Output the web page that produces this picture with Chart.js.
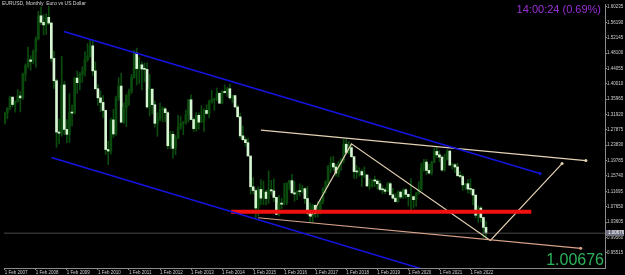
<!DOCTYPE html>
<html>
<head>
<meta charset="utf-8">
<script src="https://cdn.jsdelivr.net/npm/chart.js@4.4.0/dist/chart.umd.min.js"></script>
<style>
html, body { margin: 0; padding: 0; background: #000; overflow: hidden; }
#wrap { position: relative; width: 625px; height: 275px; }
canvas { display: block; }
.txt { position: absolute; font-family: "Liberation Sans", Arial, sans-serif; white-space: nowrap; line-height: 1; }
#title { left: 2px; top: 1px; font-size: 5px; color: #d8d8d8; }
#clock { right: 24px; top: 4px; font-size: 11px; color: #9a2fd6; }
#bid { right: 21px; top: 252px; font-size: 16px; color: #2bb35b; }
</style>
</head>
<body>
<div id="wrap">
  <canvas id="myChart" width="625" height="275"></canvas>
  <div class="txt" id="title">EURUSD, Monthly &nbsp;Euro vs US Dollar</div>
  <div class="txt" id="clock">14:00:24 (0.69%)</div>
  <div class="txt" id="bid">1.00676</div>
</div>
<script>
// EURUSD monthly candles, Feb 2007 .. Aug 2022 (one row per year)
var opens = [
  1.2990,1.3230,1.3355,1.3650,1.3455,1.3530,1.3680,1.3630,1.4260,1.4480,1.4630,
  1.4590,1.4860,1.5180,1.5790,1.5620,1.5550,1.5750,1.5600,1.4670,1.4080,1.2730,1.2700,
  1.3970,1.2800,1.2670,1.3250,1.3230,1.4150,1.4030,1.4250,1.4340,1.4640,1.4720,1.5000,
  1.4340,1.3870,1.3630,1.3510,1.3300,1.2270,1.2230,1.3050,1.2680,1.3630,1.3940,1.2990,
  1.3380,1.3690,1.3800,1.4170,1.4810,1.4400,1.4500,1.4390,1.4380,1.3390,1.3860,1.3450,
  1.2960,1.3080,1.3330,1.3340,1.3240,1.2370,1.2670,1.2300,1.2570,1.2860,1.2960,1.2990,
  1.3190,1.3580,1.3060,1.2820,1.3170,1.2990,1.3010,1.3300,1.3220,1.3520,1.3580,1.3590,
  1.3750,1.3490,1.3800,1.3770,1.3870,1.3630,1.3690,1.3390,1.3130,1.2630,1.2530,1.2450,
  1.2100,1.1290,1.1190,1.0730,1.1220,1.0990,1.1150,1.0980,1.1210,1.1180,1.1010,1.0560,
  1.0860,1.0830,1.0870,1.1380,1.1450,1.1130,1.1100,1.1170,1.1160,1.1240,1.0980,1.0590,
  1.0520,1.0800,1.0580,1.0650,1.0900,1.1240,1.1420,1.1840,1.1910,1.1810,1.1650,1.1900,
  1.2000,1.2410,1.2190,1.2320,1.2080,1.1690,1.1680,1.1690,1.1600,1.1600,1.1310,1.1310,
  1.1470,1.1440,1.1370,1.1220,1.1210,1.1170,1.1370,1.1080,1.0990,1.0900,1.1150,1.1020,
  1.1210,1.1090,1.1030,1.1030,1.0950,1.1100,1.1230,1.1780,1.1940,1.1720,1.1650,1.1930,
  1.2220,1.2130,1.2070,1.1730,1.2020,1.2230,1.1860,1.1870,1.1810,1.1580,1.1560,1.1340,
  1.1370,1.1230,1.1220,1.1070,1.0540,1.0730,1.0480,1.0220
];
var highs = [
  1.3250,1.3375,1.3680,1.3650,1.3550,1.3850,1.3800,1.4280,1.4525,1.4965,1.4740,
  1.4890,1.5240,1.5905,1.6020,1.5820,1.5840,1.6038,1.5630,1.4865,1.4120,1.3080,1.4720,
  1.4060,1.3060,1.3740,1.3440,1.4170,1.4340,1.4300,1.4450,1.4850,1.5060,1.5145,1.5140,
  1.4580,1.3980,1.3815,1.3690,1.3310,1.2490,1.3100,1.3330,1.3680,1.4160,1.4280,1.3500,
  1.3720,1.3860,1.4250,1.4880,1.4940,1.4700,1.4580,1.4550,1.4550,1.4250,1.3870,1.3550,
  1.3235,1.3490,1.3390,1.3380,1.3280,1.2750,1.2750,1.2640,1.3170,1.3140,1.3010,1.3310,
  1.3590,1.3710,1.3110,1.3240,1.3240,1.3420,1.3340,1.3450,1.3570,1.3830,1.3620,1.3890,
  1.3770,1.3820,1.3970,1.3910,1.3995,1.3700,1.3700,1.3440,1.3220,1.2890,1.2600,1.2570,
  1.2100,1.1530,1.1240,1.1290,1.1470,1.1440,1.1200,1.1710,1.1460,1.1500,1.1020,1.1060,
  1.0990,1.1380,1.1400,1.1460,1.1620,1.1430,1.1190,1.1370,1.1330,1.1260,1.1300,1.0870,
  1.0830,1.0830,1.0900,1.0950,1.1270,1.1450,1.1840,1.2070,1.2090,1.1880,1.1960,1.2030,
  1.2540,1.2555,1.2480,1.2410,1.2100,1.1850,1.1790,1.1740,1.1815,1.1620,1.1500,1.1480,
  1.1570,1.1490,1.1450,1.1320,1.1260,1.1410,1.1410,1.1250,1.1110,1.1180,1.1180,1.1240,
  1.1240,1.1100,1.1500,1.1050,1.1140,1.1420,1.1910,1.2010,1.2010,1.1880,1.1960,1.2310,
  1.2350,1.2240,1.2110,1.2150,1.2270,1.2250,1.1910,1.1900,1.1910,1.1690,1.1610,1.1380,
  1.1480,1.1500,1.1250,1.1080,1.0790,1.0770,1.0490,1.0370
];
var lows = [
  1.2935,1.3080,1.3310,1.3400,1.3255,1.3520,1.3260,1.3590,1.4070,1.4420,1.4360,
  1.4525,1.4440,1.5150,1.5560,1.5285,1.5300,1.5560,1.4580,1.3880,1.2330,1.2420,1.2620,
  1.2660,1.2450,1.2455,1.2890,1.3210,1.3750,1.3840,1.4040,1.4200,1.4580,1.4700,1.4220,
  1.3860,1.3440,1.3270,1.3110,1.2140,1.1875,1.2150,1.2590,1.2640,1.3560,1.2970,1.2960,
  1.2870,1.3430,1.3750,1.4150,1.3970,1.4010,1.3840,1.4050,1.3360,1.3150,1.3210,1.2860,
  1.2620,1.3030,1.3000,1.3000,1.2290,1.2290,1.2040,1.2130,1.2560,1.2800,1.2660,1.2940,
  1.2990,1.3050,1.2750,1.2750,1.2800,1.2990,1.2750,1.3200,1.3100,1.3490,1.3300,1.3550,
  1.3480,1.3470,1.3750,1.3670,1.3590,1.3500,1.3380,1.3130,1.2570,1.2500,1.2360,1.2100,
  1.1100,1.1100,1.0460,1.0520,1.0820,1.0820,1.0810,1.0850,1.1090,1.0900,1.0560,1.0520,
  1.0710,1.0810,1.0820,1.1210,1.1100,1.0910,1.0950,1.1050,1.1120,1.0850,1.0550,1.0350,
  1.0340,1.0490,1.0490,1.0570,1.0840,1.1120,1.1310,1.1660,1.1720,1.1570,1.1550,1.1720,
  1.1920,1.2150,1.2150,1.2060,1.1510,1.1510,1.1570,1.1300,1.1530,1.1300,1.1220,1.1270,
  1.1290,1.1230,1.1180,1.1110,1.1110,1.1160,1.1070,1.0960,1.0880,1.0880,1.0980,1.0980,
  1.0990,1.0780,1.0640,1.0730,1.0770,1.1100,1.1180,1.1700,1.1610,1.1620,1.1600,1.1920,
  1.2060,1.1950,1.1700,1.1700,1.1990,1.1840,1.1750,1.1660,1.1560,1.1520,1.1190,1.1220,
  1.1120,1.1110,1.0810,1.0470,1.0350,1.0360,0.9950,0.9900
];
var closes = [
  1.3230,1.3355,1.3650,1.3455,1.3530,1.3680,1.3630,1.4260,1.4480,1.4630,1.4590,
  1.4860,1.5180,1.5790,1.5620,1.5550,1.5750,1.5600,1.4670,1.4080,1.2730,1.2700,1.3970,
  1.2800,1.2670,1.3250,1.3230,1.4150,1.4030,1.4250,1.4340,1.4640,1.4720,1.5000,1.4340,
  1.3870,1.3630,1.3510,1.3300,1.2270,1.2230,1.3050,1.2680,1.3630,1.3940,1.2990,1.3380,
  1.3690,1.3800,1.4170,1.4810,1.4400,1.4500,1.4390,1.4380,1.3390,1.3860,1.3450,1.2960,
  1.3080,1.3330,1.3340,1.3240,1.2370,1.2670,1.2300,1.2570,1.2860,1.2960,1.2990,1.3190,
  1.3580,1.3060,1.2820,1.3170,1.2990,1.3010,1.3300,1.3220,1.3520,1.3580,1.3590,1.3750,
  1.3490,1.3800,1.3770,1.3870,1.3630,1.3690,1.3390,1.3130,1.2630,1.2530,1.2450,1.2100,
  1.1290,1.1190,1.0730,1.1220,1.0990,1.1150,1.0980,1.1210,1.1180,1.1010,1.0560,1.0860,
  1.0830,1.0870,1.1380,1.1450,1.1130,1.1100,1.1170,1.1160,1.1240,1.0980,1.0590,1.0520,
  1.0800,1.0580,1.0650,1.0900,1.1240,1.1420,1.1840,1.1910,1.1810,1.1650,1.1900,1.2000,
  1.2410,1.2190,1.2320,1.2080,1.1690,1.1680,1.1690,1.1600,1.1600,1.1310,1.1310,1.1470,
  1.1440,1.1370,1.1220,1.1210,1.1170,1.1370,1.1080,1.0990,1.0900,1.1150,1.1020,1.1210,
  1.1090,1.1030,1.1030,1.0950,1.1100,1.1230,1.1780,1.1940,1.1720,1.1650,1.1930,1.2220,
  1.2130,1.2070,1.1730,1.2020,1.2230,1.1860,1.1870,1.1810,1.1580,1.1560,1.1340,1.1370,
  1.1230,1.1220,1.1070,1.0540,1.0730,1.0480,1.0220,1.00676
];

// time axis labels (month index from Feb 2007)
var yearTicks = [0, 12, 24, 36, 48, 60, 72, 84, 96, 108, 120, 132, 144, 156, 168, 180];
var yearLabels = ["1 Feb 2007", "1 Feb 2008", "1 Feb 2009", "1 Feb 2010", "1 Feb 2011", "1 Feb 2012",
  "1 Feb 2013", "1 Feb 2014", "1 Feb 2015", "1 Feb 2016", "1 Feb 2017", "1 Feb 2018",
  "1 Feb 2019", "1 Feb 2020", "1 Feb 2021", "1 Feb 2022"];

// price axis labels
var priceTicks = [1.60235, 1.56190, 1.52145, 1.48100, 1.44055, 1.40010, 1.35965, 1.31920, 1.27875,
  1.23830, 1.19785, 1.15740, 1.11695, 1.07650, 1.03605, 0.99560, 0.95515];

var bidPrice = 1.00676;

// drawn objects: [month index, price] end points
var channelTop = [[22.8, 1.5375], [206.9, 1.1641]];
var channelBottom = [[18.0, 1.2060], [165.1, 0.9047]];
var supportLine = [[87.5, 1.0629], [203.5, 1.0629]];
var upperWedge = [[99.0, 1.2782], [224.6, 1.1978]];
var lowerWedge = [[97.9, 1.0474], [222.6, 0.9670]];
var zigzag = [[118.2, 1.0500], [134.0, 1.2419], [187.7, 0.9877], [215.4, 1.1900]];

var bullColor = "#0b4a0d";
var bearColor = "#d6f5d2";

var wicks = [], bodies = [], bodyColors = [];
for (var i = 0; i < closes.length; i++) {
  wicks.push({ x: i, y: [lows[i], highs[i]] });
  bodies.push({ x: i, y: [opens[i], closes[i]] });
  bodyColors.push(closes[i] >= opens[i] ? bullColor : bearColor);
}

function pts(arr) {
  return arr.map(function (p) { return { x: p[0], y: p[1] }; });
}

function lineSet(arr, color, width, endDot) {
  var radii = arr.map(function (p, k) { return (endDot && k == arr.length - 1) ? 1.5 : 0; });
  return {
    type: "line",
    data: pts(arr),
    borderColor: color,
    backgroundColor: color,
    borderWidth: width,
    pointRadius: radii,
    pointBorderWidth: 0,
    tension: 0,
    order: 0
  };
}

// grey box with the bid price on the price axis
var bidLabel = {
  id: "bidLabel",
  afterDraw: function (chart) {
    var c = chart.ctx;
    var ys = chart.scales.y;
    var y = Math.round(ys.getPixelForValue(bidPrice));
    c.save();
    c.fillStyle = "#6e7080";
    c.fillRect(ys.left + 1, y - 3, 18, 6);
    c.fillStyle = "#ffffff";
    c.font = "4.5px 'Liberation Sans'";
    c.textBaseline = "middle";
    c.fillText(bidPrice.toFixed(5), ys.left + 3, y);
    c.restore();
  }
};

var ctx = document.getElementById("myChart").getContext("2d");
var chart = new Chart(ctx, {
  type: "bar",
  data: {
    datasets: [
      lineSet(channelTop, "#1414e0", 1.5, true),
      lineSet(channelBottom, "#1414e0", 1.5, false),
      lineSet(supportLine, "#f01010", 4, false),
      lineSet(upperWedge, "#e4d2b4", 1.2, true),
      lineSet(lowerWedge, "#d9a48c", 1.2, true),
      lineSet(zigzag, "#e4d2b4", 1.2, true),
      lineSet([[-1, bidPrice], [240, bidPrice]], "#4a4a4a", 1, false),
      {
        data: bodies,
        backgroundColor: bodyColors,
        barThickness: 2,
        minBarLength: 1,
        grouped: false,
        order: 2
      },
      {
        data: wicks,
        backgroundColor: bullColor,
        barThickness: 1,
        grouped: false,
        order: 3
      }
    ]
  },
  options: {
    responsive: false,
    animation: false,
    events: [],
    layout: { padding: 0 },
    plugins: { legend: { display: false }, tooltip: { enabled: false } },
    scales: {
      x: {
        type: "linear",
        position: "bottom",
        min: -0.3,
        max: 232,
        offset: false,
        grid: { display: true, offset: false, drawOnChartArea: false, drawTicks: true, tickLength: 2, color: "#8a8a8a" },
        border: { color: "#8a8a8a" },
        ticks: {
          color: "#d0d0d0",
          font: { family: "Liberation Sans", size: 4.5 },
          align: "start",
          maxRotation: 0,
          autoSkip: false,
          padding: 0,
          callback: function (v, idx) { return yearLabels[idx]; }
        },
        afterBuildTicks: function (axis) {
          axis.ticks = yearTicks.map(function (v) { return { value: v }; });
        },
        afterFit: function (axis) { axis.height = 7; }
      },
      y: {
        type: "linear",
        position: "right",
        min: 0.91511,
        max: 1.61013,
        grid: { display: true, drawOnChartArea: false, drawTicks: true, tickLength: 2, color: "#8a8a8a" },
        border: { color: "#8a8a8a" },
        ticks: {
          color: "#d0d0d0",
          font: { family: "Liberation Sans", size: 4.5 },
          padding: 0,
          autoSkip: false,
          callback: function (v) { return v.toFixed(5); }
        },
        afterBuildTicks: function (axis) {
          axis.ticks = priceTicks.map(function (v) { return { value: v }; });
        },
        afterFit: function (axis) { axis.width = 20; }
      }
    }
  },
  plugins: [bidLabel]
});
</script>
</body>
</html>
